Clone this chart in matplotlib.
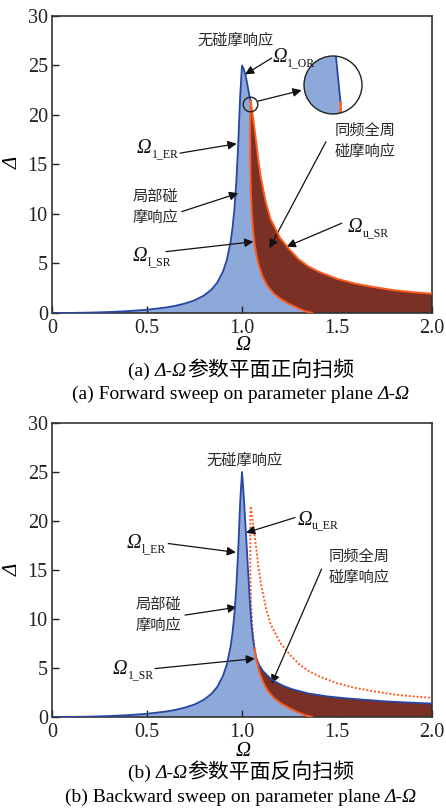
import matplotlib
matplotlib.use('Agg')
import matplotlib.pyplot as plt
from matplotlib.patches import Circle

plt.rcParams['font.family'] = ['Liberation Serif', 'Noto Sans CJK SC']

# rising branch of the rub-free response (both panels)
omega_l = [0, 0.1, 0.2, 0.3, 0.4, 0.5, 0.6, 0.65, 0.7, 0.75, 0.8, 0.84, 0.87,
           0.9, 0.92, 0.94, 0.95, 0.96, 0.97, 0.98, 0.99, 1.0]
delta_l = [0, 0.01, 0.04, 0.1, 0.19, 0.33, 0.56, 0.73, 0.96, 1.28, 1.77, 2.38, 3.08,
           4.2, 5.35, 7.2, 8.6, 10.5, 13.2, 17.0, 21.8, 25.0]

# falling branch of the rub-free response (backward sweep)
omega_r = [1.0, 1.006, 1.012, 1.018, 1.024, 1.03, 1.036, 1.042, 1.05, 1.058, 1.066,
           1.076, 1.09, 1.11, 1.14, 1.17, 1.22, 1.27, 1.35, 1.45, 1.55, 1.65, 1.75,
           1.85, 2.0]
delta_r = [25.0, 23.5, 21.6, 19.6, 17.7, 15.6, 13.6, 11.6, 9.4, 8.0, 6.9,
           6.0, 5.3, 4.7, 4.1, 3.65, 3.15, 2.8, 2.4, 2.1, 1.9, 1.75, 1.6,
           1.5, 1.37]

# Omega_1_OR (forward sweep, falling from the peak)
omega_or = [1.0, 1.01, 1.019, 1.03, 1.038, 1.046]
delta_or = [25.0, 24.6, 24.0, 22.9, 22.0, 21.4]

# lower boundary of full annular rub (Omega_l_SR)
omega_lsr = [1.046, 1.044, 1.043, 1.044, 1.047, 1.052, 1.058, 1.066, 1.076, 1.09,
             1.11, 1.135, 1.165, 1.2, 1.245, 1.29, 1.33, 1.37]
delta_lsr = [21.4, 20.0, 17.5, 14.5, 12.0, 10.0, 8.4, 7.0, 5.8, 4.7,
             3.6, 2.7, 2.0, 1.45, 0.95, 0.52, 0.2, 0.0]

# upper boundary of full annular rub (Omega_u_SR / Omega_u_ER)
omega_usr = [1.046, 1.055, 1.065, 1.075, 1.086, 1.1, 1.125, 1.15, 1.2, 1.25, 1.3,
             1.35, 1.4, 1.5, 1.6, 1.7, 1.8, 1.9, 2.0]
delta_usr = [21.4, 20.2, 18.7, 17.2, 15.4, 13.6, 11.2, 9.5, 7.6, 6.4, 5.4,
             4.7, 4.2, 3.45, 2.95, 2.6, 2.3, 2.1, 1.95]

xticks = [0, 0.5, 1.0, 1.5, 2.0]
xticklabels = ['0', '0.5', '1.0', '1.5', '2.0']
yticks = [0, 5, 10, 15, 20, 25, 30]

BLUE_FILL = '#8DA9D9'
BLUE_LINE = '#2847A5'
BROWN = '#7A3024'
ORANGE = '#FF5B1F'
TXT = '#2a2a2a'
CJK = ['Noto Sans CJK SC']

W, H = 446, 809
fig = plt.figure(figsize=(W / 100, H / 100), dpi=100)
rend = fig.canvas.get_renderer()
ax1 = fig.add_axes([52 / W, 1 - 313 / H, 380 / W, 297 / H])
ax2 = fig.add_axes([52 / W, 1 - 717 / H, 380 / W, 294 / H])


def style_axes(ax, xlab_y, ylab_y):
    ax.set_xlim(0, 2.0)
    ax.set_ylim(0, 30)
    ax.set_xticks(xticks)
    ax.set_xticklabels(xticklabels)
    ax.set_yticks(yticks)
    ax.tick_params(direction='in', length=5, width=1, labelsize=14.5,
                   top=False, right=False, colors='#222')
    ax.tick_params(axis='x', pad=4)
    ax.tick_params(axis='y', pad=3)
    for s in ax.spines.values():
        s.set_linewidth(1.2)
        s.set_color('#333')
    fig.text(243 / W, 1 - xlab_y / H, 'Ω', fontsize=15, style='italic',
             ha='center', va='center')
    fig.text(13 / W, 1 - ylab_y / H, 'Δ', fontsize=15, style='italic',
             rotation=90, ha='center', va='center')


def draw_forward(ax, clip=None):
    bx = omega_l + omega_or[1:] + omega_lsr[1:]
    by = delta_l + delta_or[1:] + delta_lsr[1:]
    rx = omega_lsr + [2.0] + omega_usr[::-1]
    ry = delta_lsr + [0] + delta_usr[::-1]
    arts = []
    arts += ax.fill(bx, by, color=BLUE_FILL, lw=0, zorder=1)
    arts += ax.fill(rx, ry, color=BROWN, lw=0, zorder=2)
    arts += ax.plot(omega_l + omega_or[1:], delta_l + delta_or[1:], color=BLUE_LINE, lw=1.3, zorder=3)
    arts += ax.plot(omega_lsr, delta_lsr, color=ORANGE, lw=1.4, zorder=4)
    arts += ax.plot(omega_usr, delta_usr, color=ORANGE, lw=1.4, zorder=4)
    if clip is not None:
        for a in arts:
            a.set_clip_path(clip)


def lab(ax, x, y, sub):
    # italic Omega followed by a small roman subscript
    px, py = ax.transData.transform((x, y))
    base = py - 5.5
    t = fig.text(px / W, base / H, 'Ω', fontsize=14.5, style='italic',
                 ha='left', va='baseline', color='#111')
    bb = t.get_window_extent(rend)
    fig.text((bb.x1 + 0.5) / W, (base - 4) / H, sub, fontsize=8.5,
             ha='left', va='baseline', color='#111')


def caption(cy, pieces):
    texts = [fig.text(0, 0, s, fontsize=fs, ha='left', va='baseline', **kw) for s, fs, kw in pieces]
    widths = [t.get_window_extent(rend).width for t in texts]
    x = 241 - sum(widths) / 2
    for t, w in zip(texts, widths):
        t.set_position((x / W, 1 - (cy + 5) / H))
        x += w


def arrow(ax, start, end):
    ax.annotate('', xy=end, xytext=start,
                arrowprops=dict(arrowstyle='-|>', color='#111', lw=0.9,
                                mutation_scale=13, shrinkA=0, shrinkB=0))


def cjk(ax, x, y, s):
    ax.text(x, y, s, family=CJK, fontsize=11, color=TXT, ha='center',
            va='center', linespacing=1.35)


# ---------------- (a) forward sweep ----------------
style_axes(ax1, 346, 163)
draw_forward(ax1)
cjk(ax1, 0.968, 27.6, '无碰摩响应')
lab(ax1, 1.16, 25.9, '1_OR')
arrow(ax1, (1.156, 25.75), (1.016, 24.1))
ax1.plot([1.042], [21.13], 'o', ms=10.5, mfc='none', mec='#222', mew=1.0, zorder=6)
arrow(ax1, (1.084, 21.4), (1.314, 22.5))
lab(ax1, 0.447, 16.7, '1_ER')
arrow(ax1, (0.674, 16.15), (0.972, 17.1))
cjk(ax1, 0.542, 10.7, '局部碰\n摩响应')
arrow(ax1, (0.683, 10.24), (0.98, 12.1))
lab(ax1, 0.426, 5.76, 'l_SR')
arrow(ax1, (0.6, 6.2), (1.06, 7.2))
cjk(ax1, 1.647, 17.4, '同频全周\n碰摩响应')
arrow(ax1, (1.442, 17.3), (1.144, 6.54))
lab(ax1, 1.558, 8.7, 'u_SR')
arrow(ax1, (1.525, 9.07), (1.235, 6.7))

# magnified view of the peak region
axin = fig.add_axes([(333 - 29) / W, 1 - (85 + 29) / H, 58 / W, 58 / H])
axin.set_xlim(1.0334, 1.0534)
axin.set_ylim(21.37, 21.52)
axin.axis('off')
disk = Circle((0.5, 0.5), 0.5, transform=axin.transAxes, fc='white', ec='none', zorder=0)
axin.add_patch(disk)
draw_forward(axin, clip=disk)
axin.add_patch(Circle((0.5, 0.5), 0.5, transform=axin.transAxes, fc='none',
                      ec='#222', lw=1.0, zorder=10, clip_on=False))

caption(371, [('(a) ', 14, {}), ('Δ-Ω', 14, {'style': 'italic'}),
              ('参数平面正向扫频', 15, {'family': CJK})])
caption(394, [('(a) Forward sweep on parameter plane ', 14, {}), ('Δ-Ω', 14, {'style': 'italic'})])

# ---------------- (b) backward sweep ----------------
style_axes(ax2, 752, 570)
ax2.fill(omega_l + omega_r[1:] + [2.0], delta_l + delta_r[1:] + [0], color=BLUE_FILL, lw=0, zorder=1)
k = 7
sx = [w for w in omega_r if w >= omega_lsr[k]]
sy = delta_r[len(omega_r) - len(sx):]
ax2.fill(omega_lsr[k:] + [2.0] + sx[::-1], delta_lsr[k:] + [0] + sy[::-1],
         color=BROWN, lw=0, zorder=2)
ax2.plot(omega_lsr[:k + 1], delta_lsr[:k + 1], color=ORANGE, lw=1.4, ls=(0, (1, 1)), zorder=3)
ax2.plot(omega_usr, delta_usr, color=ORANGE, lw=1.4, ls=(0, (1, 1)), zorder=3)
ax2.plot(omega_l + omega_r[1:], delta_l + delta_r[1:], color=BLUE_LINE, lw=1.3, zorder=4)
ax2.plot(omega_lsr[k:], delta_lsr[k:], color=ORANGE, lw=1.4, zorder=4)

cjk(ax2, 1.016, 26.2, '无碰摩响应')
lab(ax2, 1.29, 20.2, 'u_ER')
arrow(ax2, (1.279, 20.35), (1.021, 18.8))
lab(ax2, 0.395, 17.8, 'l_ER')
arrow(ax2, (0.612, 17.7), (0.968, 16.8))
cjk(ax2, 1.616, 15.3, '同频全周\n碰摩响应')
arrow(ax2, (1.419, 15.1), (1.156, 3.4))
cjk(ax2, 0.558, 10.4, '局部碰\n摩响应')
arrow(ax2, (0.7, 10.4), (0.972, 11.2))
lab(ax2, 0.321, 4.97, '1_SR')
arrow(ax2, (0.542, 4.94), (1.068, 5.96))

caption(773, [('(b) ', 14, {}), ('Δ-Ω', 14, {'style': 'italic'}),
              ('参数平面反向扫频', 15, {'family': CJK})])
caption(797, [('(b) Backward sweep on parameter plane ', 14, {}), ('Δ-Ω', 14, {'style': 'italic'})])

fig.savefig('out.png', dpi=100)
